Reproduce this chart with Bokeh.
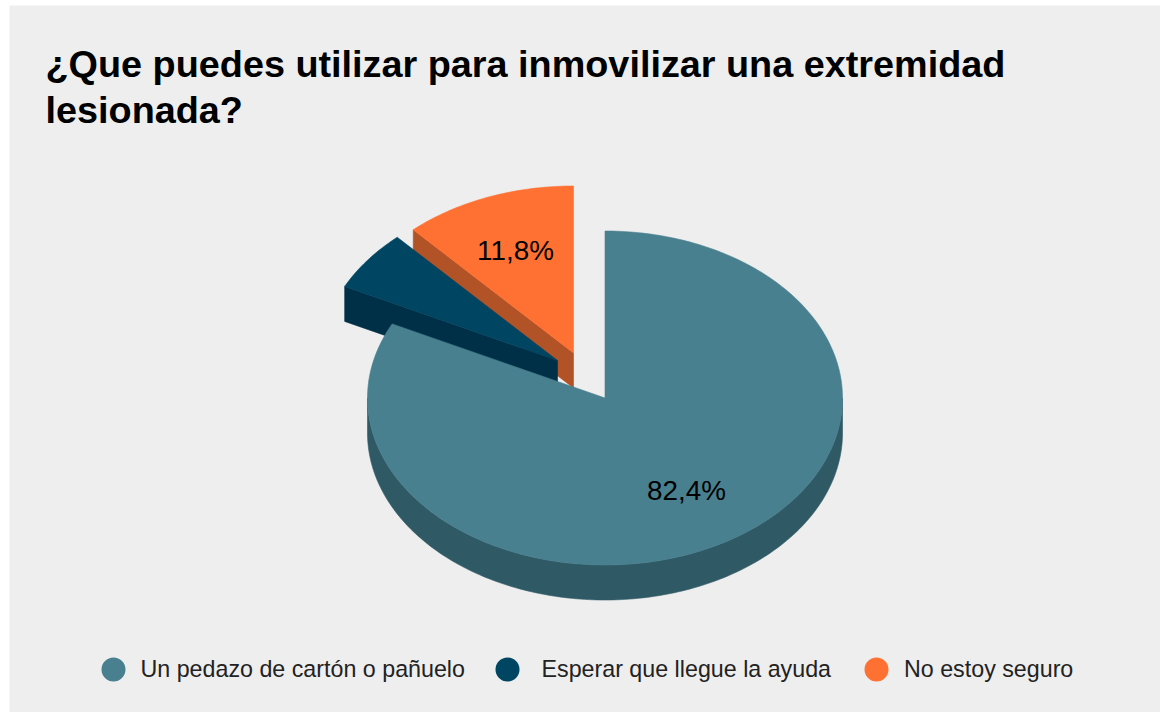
import math
from bokeh.plotting import figure
from bokeh.models import Range1d
from bokeh.core.properties import value
from bokeh.embed import file_html
from bokeh.resources import INLINE

title_lines = ["¿Que puedes utilizar para inmovilizar una extremidad", "lesionada?"]
categories = ["Un pedazo de cartón o pañuelo", "Esperar que llegue la ayuda", "No estoy seguro"]
percent = [82.4, 5.9, 11.8]
pct_labels = ["82,4%", None, "11,8%"]

top_colors = ["#48808f", "#004562", "#ff7133"]
wall_colors = ["#2f5965", "#003047", "#b25227"]
BG = "#eeeeee"
FONT = value("Liberation Sans")

X0, X1, Y0, Y1 = 9, 1160, 5, 712
CX, CY, RX, RY, DEPTH = 604.5, 397.5, 237.5, 167, 35
explode = [(0, 0), (-47.5, -37.5), (-31.5, -45)]
label_pos = [(686, 490), None, (515, 250)]
legend_swatch_x = [113, 507, 876]
legend_text_x = [140, 541, 903.5]
LEGEND_Y = 668

p = figure(width=1160, height=712, output_backend="svg", toolbar_location=None,
           x_range=Range1d(X0, X1), y_range=Range1d(Y1, Y0),
           background_fill_color=BG, border_fill_color="#ffffff",
           min_border=0, min_border_left=X0, min_border_right=0, min_border_top=Y0, min_border_bottom=0,
           outline_line_color=None)
p.axis.visible = False
p.grid.visible = False


def pt(a, ox, oy, dy=0):
    r = math.radians(a)
    return CX + ox + RX * math.sin(r), CY + oy - RY * math.cos(r) + dy


def arc(a0, a1, ox, oy, dy=0):
    n = max(2, int(abs(a1 - a0)))
    return [pt(a0 + (a1 - a0) * i / n, ox, oy, dy) for i in range(n + 1)]


def poly(points, color):
    p.patch([q[0] for q in points], [q[1] for q in points], fill_color=color, line_color=color, line_width=0.6)


total = sum(percent)
spans = []
cum = 0.0
for v in percent:
    spans.append((cum / total * 360, (cum + v) / total * 360))
    cum += v

# far slices first, main slice last
for i in [2, 1, 0]:
    a0, a1 = spans[i]
    ox, oy = explode[i]
    apex = (CX + ox, CY + oy)
    if i == 0:
        poly(arc(90, 270, ox, oy) + arc(270, 90, ox, oy, DEPTH), wall_colors[i])
    else:
        poly([apex, pt(a0, ox, oy), pt(a0, ox, oy, DEPTH), (apex[0], apex[1] + DEPTH)], wall_colors[i])
    poly([apex] + arc(a0, a1, ox, oy), top_colors[i])

for lab, pos in zip(pct_labels, label_pos):
    if lab:
        p.text([pos[0]], [pos[1]], text=[lab], text_font=FONT, text_font_size="27.8px",
               text_color="#000000", text_align="center", text_baseline="middle")

for line, y in zip(title_lines, [63, 109]):
    p.text([45], [y], text=[line], text_font=FONT, text_font_style="bold", text_font_size="37.8px",
           text_color="#000000", text_align="left", text_baseline="middle")

p.scatter(legend_swatch_x, [LEGEND_Y + 1] * 3, marker="circle", size=24, fill_color=top_colors, line_color=None)
p.text(legend_text_x, [LEGEND_Y] * 3, text=categories, text_font=FONT, text_font_size="23.25px",
       text_color="#222222", text_align="left", text_baseline="middle")

open("out.html", "w").write(file_html(p, INLINE))
